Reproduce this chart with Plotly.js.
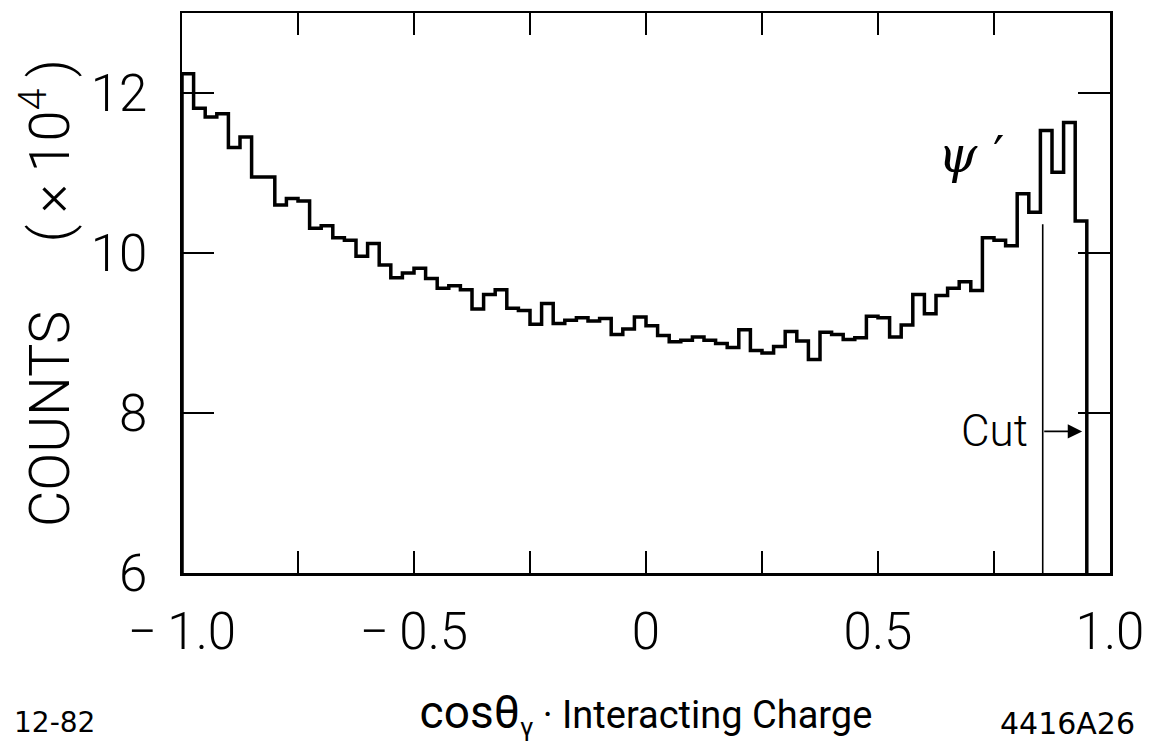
<!DOCTYPE html>
<html>
<head>
<meta charset="utf-8">
<script src="https://cdn.plot.ly/plotly-3.0.1.min.js"></script>
<style>html,body{margin:0;padding:0;background:#fff;}#chart{width:1150px;height:746px;}</style>
</head>
<body>
<div id="chart"></div>
<script>
// ---- data (counts in units of 10^4), bins of width 0.025 starting at -1.0 ----
const binStart = -1.0;
const binWidth = 0.025;
const counts = [
  12.24, 11.81, 11.70, 11.74, 11.32, 11.45, 10.95, 10.95, 10.60, 10.68,
  10.65, 10.31, 10.34, 10.19, 10.16, 9.96, 10.12, 9.85, 9.69, 9.75,
  9.81, 9.68, 9.56, 9.59, 9.54, 9.30, 9.48, 9.54, 9.31, 9.28,
  9.11, 9.37, 9.12, 9.16, 9.19, 9.15, 9.18, 8.98, 9.05, 9.20,
  9.09, 8.97, 8.89, 8.91, 8.95, 8.91, 8.87, 8.82, 9.04, 8.78,
  8.75, 8.83, 9.02, 8.90, 8.67, 9.01, 8.98, 8.92, 8.94, 9.21,
  9.19, 8.95, 9.10, 9.48, 9.24, 9.47, 9.56, 9.64, 9.53, 10.19,
  10.16, 10.09, 10.74, 10.51, 11.53, 11.01, 11.63, 10.40
];
const xTickVals = [-1.0, -0.75, -0.5, -0.25, 0, 0.25, 0.5, 0.75, 1.0];
const xTickText = ['\u2212\u20091.0', '', '\u2212\u20090.5', '', '0', '', '0.5', '', '1.0'];
const yTickVals = [6, 8, 10, 12];
const yTickText = ['6', '8', '10', '12'];
const cutX = 0.855;          // thin cut line position
const cutTop = 10.36;        // top of thin cut line
const arrowY = 7.77;         // level of "Cut" arrow
const arrowTipX = 0.94;
const psiPos = [0.70, 11.22];

// ---- build step outline ----
const yMin = 6;
const hx = [binStart], hy = [yMin];
counts.forEach((c, i) => { hx.push(binStart + i * binWidth); hy.push(c); });
const binEnd = binStart + counts.length * binWidth;
hx.push(binEnd); hy.push(counts[counts.length - 1]);
hx.push(binEnd); hy.push(yMin);

const thin = 'Roboto, Liberation Sans, sans-serif';

const traces = [{
  x: hx, y: hy, type: 'scatter', mode: 'lines',
  line: {shape: 'hv', color: '#000', width: 3.5},
  hoverinfo: 'skip', showlegend: false
}, {
  x: [cutX, cutX], y: [yMin, cutTop], type: 'scatter', mode: 'lines',
  line: {color: '#000', width: 1.6}, hoverinfo: 'skip', showlegend: false
}];

const layout = {
  width: 1150, height: 746,
  margin: {l: 182, r: 40, t: 13, b: 173},
  paper_bgcolor: '#fff', plot_bgcolor: '#fff',
  showlegend: false,
  xaxis: {
    range: [-1, 1], tickvals: xTickVals, ticktext: xTickText,
    ticks: 'inside', ticklen: 22, tickwidth: 2, tickcolor: '#000',
    showline: true, linewidth: 2.5, linecolor: '#000', mirror: 'ticks',
    showgrid: false, zeroline: false,
    ticklabelstandoff: 12,
    tickfont: {family: thin, size: 51, weight: 300, color: '#000'},
    title: {text: '<span style="font-size:46px">cos\u03b8</span><sub>\u03b3</sub> \u00b7 Interacting Charge',
            font: {family: thin, size: 38, color: '#000'}, standoff: 42}
  },
  yaxis: {
    range: [6, 13], tickvals: yTickVals, ticktext: yTickText,
    ticks: 'inside', ticklen: 32, tickwidth: 2, tickcolor: '#000',
    showline: true, linewidth: 2.5, linecolor: '#000', mirror: 'ticks',
    showgrid: false, zeroline: false,
    ticklabelstandoff: 22,
    tickfont: {family: thin, size: 51, weight: 300, color: '#000'},
    title: {text: 'COUNTS\u00a0\u00a0\u00a0\u00a0\u00a0(\u2009\u00d7\u200910<sup>4</sup>\u2009)',
            font: {family: thin, size: 56, weight: 300, color: '#000'}, standoff: 3}
  },
  annotations: [
    {x: psiPos[0], y: psiPos[1], xref: 'x', yref: 'y', text: '<i>\u03c8</i>\u00a0\u2032',
     showarrow: false, font: {family: 'DejaVu Serif, serif', size: 50, color: '#000'}},
    {x: 0.827, y: arrowY, xref: 'x', yref: 'y', text: 'Cut', xanchor: 'right',
     showarrow: false, font: {family: thin, size: 44, weight: 300, color: '#000'}},
    {x: arrowTipX, y: arrowY, xref: 'x', yref: 'y', ax: cutX, ay: arrowY, axref: 'x', ayref: 'y',
     text: '', showarrow: true, arrowhead: 2, arrowsize: 1.6, arrowwidth: 1.8, arrowcolor: '#000'}
  ]
};
// corner labels placed in paper coordinates
const pw = 1150 - 182 - 40, ph = 746 - 13 - 173;
function px2paperX(px) { return (px - 182) / pw; }
function px2paperY(py) { return (746 - 173 - py) / ph; }
layout.annotations.push({x: px2paperX(12), y: px2paperY(722), xref: 'paper', yref: 'paper', xanchor: 'left', yanchor: 'middle',
  text: '12-82', showarrow: false, font: {family: 'DejaVu Sans, sans-serif', size: 28, color: '#000'}});
layout.annotations.push({x: px2paperX(1137), y: px2paperY(723), xref: 'paper', yref: 'paper', xanchor: 'right', yanchor: 'middle',
  text: '4416A26', showarrow: false, font: {family: 'DejaVu Sans, sans-serif', size: 30, color: '#000'}});

Plotly.newPlot('chart', traces, layout, {staticPlot: true});
</script>
</body>
</html>
